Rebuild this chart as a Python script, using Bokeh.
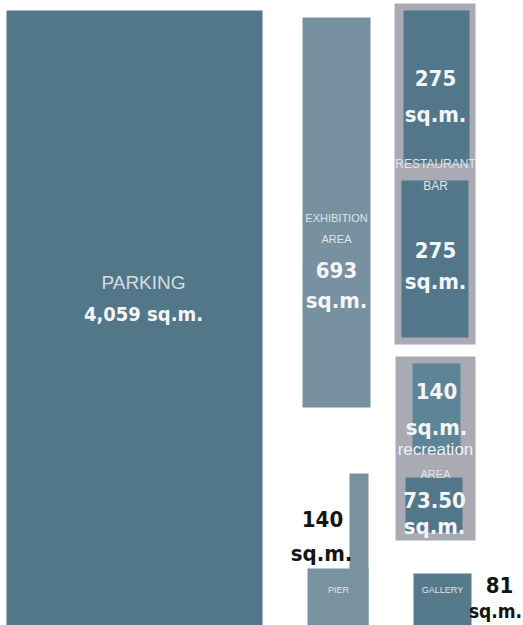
from bokeh.plotting import figure
from bokeh.models import Range1d
from bokeh.core.properties import value
from bokeh.embed import file_html
from bokeh.resources import INLINE

# --- data -------------------------------------------------------------
space_names = ["PARKING", "EXHIBITION AREA", "RESTAURANT", "BAR",
               "recreation 1", "recreation AREA 2", "PIER", "GALLERY"]
space_areas = [4059, 693, 275, 275, 140, 73.50, 140, 81]
area_labels = ["4,059 sq.m.", "693", "275", "275", "140", "73.50", "140", "81"]
unit_label = "sq.m."

# --- layout (pixel space of the drawing) ------------------------------
# containers (grey frames)
frame_l = [394, 395]
frame_r = [475, 475]
frame_t = [3, 356]
frame_b = [344, 540]

# blocks: left, right, top, bottom, colour
blk_l = [6, 302, 403, 401, 412, 405, 349, 307, 413]
blk_r = [262, 370, 469, 468, 460, 462, 368, 368, 471]
blk_t = [10, 17, 10, 180, 363, 477, 473, 568, 573]
blk_b = [640, 407, 163, 337, 453, 532, 640, 640, 640]
blk_c = ["#527789", "#7791a0", "#52778a", "#52778a", "#5e8597",
         "#52778a", "#7892a0", "#7892a0", "#547a8c"]

W, H = 523, 625
p = figure(width=W, height=H, output_backend="svg", toolbar_location=None,
           x_range=Range1d(0, W), y_range=Range1d(H, 0),
           min_border=0)
p.axis.visible = False
p.grid.visible = False
p.outline_line_color = None
p.background_fill_color = "white"
p.border_fill_color = "white"

p.quad(left=frame_l, right=frame_r, top=frame_t, bottom=frame_b,
       fill_color="#a9aab3", line_color=None)
p.quad(left=blk_l, right=blk_r, top=blk_t, bottom=blk_b,
       fill_color=blk_c, line_color=None)

NUM_FONT = value("'DejaVu Sans Condensed', 'Liberation Sans Narrow', sans-serif")
LBL_FONT = value("'Liberation Sans', Arial, sans-serif")

def txt(x, y, t, size, color, font, style="normal", dy=0):
    p.text(x=[x], y=[y + dy], text=[t], text_font=font, text_font_size=f"{size}px",
           text_color=color, text_align="center", text_baseline="alphabetic",
           text_font_style=style)

small_c = "#dfe5e8"
num_c = "#f3f5f6"
dark_c = "#151515"
NS = 22
SMALL_DY = -5
BIG_DY = -8

# parking
txt(143, 290, space_names[0], 19, "#d6dde1", LBL_FONT, dy=BIG_DY)
txt(143, 322, area_labels[0], 20, num_c, NUM_FONT, "bold", dy=-9)
# exhibition
txt(336, 222, "EXHIBITION", 11, small_c, LBL_FONT, dy=SMALL_DY)
txt(336, 243, "AREA", 11, small_c, LBL_FONT, dy=SMALL_DY)
txt(336, 277, area_labels[1], NS, num_c, NUM_FONT, "bold", dy=BIG_DY)
txt(336, 308, unit_label, NS, num_c, NUM_FONT, "bold", dy=BIG_DY)
# restaurant / bar
txt(435, 85, area_labels[2], NS, num_c, NUM_FONT, "bold", dy=BIG_DY)
txt(435, 122, unit_label, NS, num_c, NUM_FONT, "bold", dy=BIG_DY)
txt(435, 168, space_names[2], 12, small_c, LBL_FONT, dy=SMALL_DY)
txt(435, 190, space_names[3], 12, small_c, LBL_FONT, dy=SMALL_DY)
txt(435, 257, area_labels[3], NS, num_c, NUM_FONT, "bold", dy=BIG_DY)
txt(435, 289, unit_label, NS, num_c, NUM_FONT, "bold", dy=BIG_DY)
# recreation
txt(436, 398, area_labels[4], NS, num_c, NUM_FONT, "bold", dy=BIG_DY)
txt(436, 435, unit_label, NS, num_c, NUM_FONT, "bold", dy=BIG_DY)
txt(435, 455, "recreation", 17, "#eef1f3", LBL_FONT, dy=-6)
txt(435, 478, "AREA", 11, small_c, LBL_FONT, dy=SMALL_DY)
txt(434, 507, area_labels[5], NS, num_c, NUM_FONT, "bold", dy=BIG_DY)
txt(434, 534, unit_label, NS, num_c, NUM_FONT, "bold", dy=BIG_DY)
# pier
txt(322, 526, area_labels[6], NS, dark_c, NUM_FONT, "bold", dy=BIG_DY)
txt(321, 561, unit_label, NS, dark_c, NUM_FONT, "bold", dy=BIG_DY)
txt(338, 593, space_names[6], 9, small_c, LBL_FONT, dy=-4)
# gallery
txt(442, 593, space_names[7], 9, small_c, LBL_FONT, dy=-4)
txt(499, 592, area_labels[7], NS, dark_c, NUM_FONT, "bold", dy=BIG_DY)
txt(495, 620, unit_label, 19, dark_c, NUM_FONT, "bold", dy=-10)

open("out.html", "w").write(file_html(p, INLINE))
